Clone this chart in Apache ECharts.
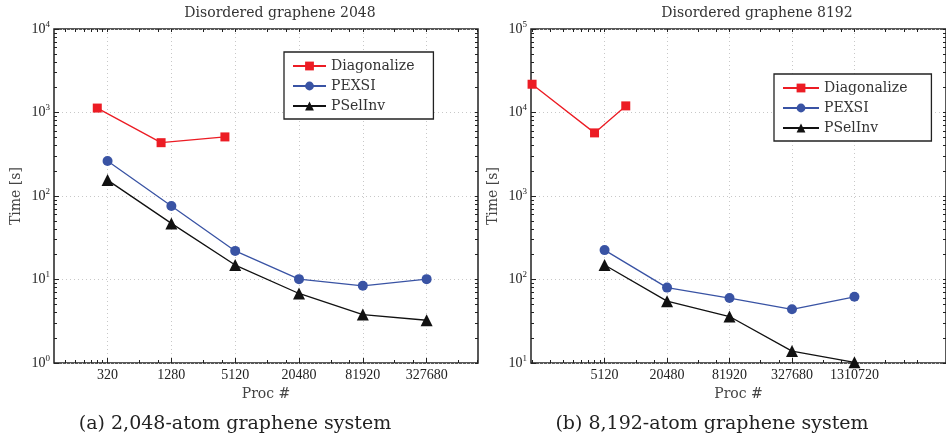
<!DOCTYPE html>
<html>
<head>
<meta charset="utf-8">
<script src="https://cdn.jsdelivr.net/npm/echarts@6/dist/echarts.min.js"></script>
<style>
html, body { margin: 0; background: #fff; }
#chart { width: 946px; height: 441px; }
</style>
</head>
<body>
<div id="chart"></div>
<script>
// (a) disordered graphene 2048
const procDiagA = [256, 1024, 4096];
const timeDiagA = [1130, 435, 510];
const procA = [320, 1280, 5120, 20480, 81920, 327680];
const timePexsiA = [262, 76, 22, 10.1, 8.4, 10.1];
const timePselA = [155, 47, 14.9, 6.8, 3.8, 3.25];

// (b) disordered graphene 8192
const procDiagB = [1024, 4096, 8192];
const timeDiagB = [21800, 5700, 12000];
const procB = [5120, 20480, 81920, 327680, 1310720];
const timePexsiB = [225, 80, 60, 44, 62];
const timePselB = [149, 55, 36, 13.9, 10.2];

// tick labels
const xTicksA = [320, 1280, 5120, 20480, 81920, 327680];
const xTicksB = [5120, 20480, 81920, 327680, 1310720];
const xMinorA = [128, 160, 192, 224, 256, 288, 640, 960, 2560, 3840, 10240, 15360,
    40960, 61440, 163840, 245760, 655360, 983040];
const xMinorB = [1024, 1536, 2048, 2560, 3072, 3584, 4096, 4608, 10240, 15360, 40960, 61440,
    163840, 245760, 655360, 983040, 2621440, 3932160, 5242880];
const yTicksA = [1, 10, 100, 1000, 10000];
const yTicksB = [10, 100, 1000, 10000, 100000];

const RED = '#ec1c24', BLUE = '#3953a4', BLACK = '#111';
const SERIF = 'DejaVu Serif';
const NUM = 'Liberation Serif';

// minor ticks 2..9 per decade for the y axes
function decadeMinors(lo, hi) {
    const out = [];
    for (let d = lo; d < hi; d *= 10) {
        for (let k = 2; k <= 9; k++) out.push(k * d);
    }
    return out;
}

const pairs = (xs, ys) => xs.map((x, i) => [x, ys[i]]);

function xAxes(grid, min, max, majors, minors) {
    const base = { gridIndex: grid, type: 'log', min: min, max: max, axisLine: { show: false } };
    return [
        Object.assign({}, base, {
            position: 'bottom',
            name: 'Proc #', nameLocation: 'middle', nameGap: 22,
            nameTextStyle: { fontFamily: SERIF, fontSize: 14, color: '#444' },
            axisTick: { inside: true, length: 5, customValues: majors, lineStyle: { color: '#222' } },
            axisLabel: { customValues: majors, margin: 5, formatter: v => String(v),
                fontFamily: NUM, fontSize: 14, color: '#222' },
            splitLine: { show: true, lineStyle: { color: '#c8c8c8', type: [1, 3], width: 1 } }
        }),
        Object.assign({}, base, {
            position: 'bottom',
            axisTick: { inside: true, length: 3, customValues: minors, lineStyle: { color: '#222' } },
            axisLabel: { show: false }, splitLine: { show: false }
        }),
        Object.assign({}, base, {
            position: 'top',
            axisTick: { inside: true, length: 3, customValues: majors.concat(minors), lineStyle: { color: '#222' } },
            axisLabel: { show: false }, splitLine: { show: false }
        })
    ];
}

function yAxes(grid, min, max, majors) {
    const base = { gridIndex: grid, type: 'log', min: min, max: max, axisLine: { show: false } };
    const minors = decadeMinors(min, max);
    return [
        Object.assign({}, base, {
            position: 'left',
            name: 'Time [s]', nameLocation: 'middle', nameGap: 31,
            nameTextStyle: { fontFamily: SERIF, fontSize: 14, color: '#444' },
            axisTick: { inside: true, length: 5, customValues: majors, lineStyle: { color: '#222' } },
            axisLabel: {
                customValues: majors, margin: 4,
                formatter: v => '{b|10}{s|' + Math.round(Math.log10(v)) + '}',
                rich: {
                    b: { fontFamily: NUM, fontSize: 14, color: '#222' },
                    s: { fontFamily: NUM, fontSize: 9, color: '#222', padding: [0, 0, 9, 0] }
                }
            },
            splitLine: { show: true, lineStyle: { color: '#c8c8c8', type: [1, 3], width: 1 } }
        }),
        Object.assign({}, base, {
            position: 'left',
            axisTick: { inside: true, length: 3, customValues: minors, lineStyle: { color: '#222' } },
            axisLabel: { show: false }, splitLine: { show: false }
        }),
        Object.assign({}, base, {
            position: 'right',
            axisTick: { inside: true, length: 3, customValues: majors.concat(minors), lineStyle: { color: '#222' } },
            axisLabel: { show: false }, splitLine: { show: false }
        })
    ];
}

function line(name, grid, data, color, symbol, size) {
    return {
        name: name, type: 'line', data: data,
        xAxisIndex: grid * 3, yAxisIndex: grid * 3,
        symbol: symbol, symbolSize: size, showSymbol: true,
        lineStyle: { color: color, width: 1.3 },
        itemStyle: { color: color },
        animation: false
    };
}

function legend(left, top, lineW, padRight) {
    return {
        left: left, top: top, orient: 'vertical',
        itemWidth: lineW, itemHeight: 11, itemGap: 6, itemStyle: { borderWidth: 0 },
        padding: [7, padRight, 6, 8],
        borderColor: '#222', borderWidth: 1.3, backgroundColor: '#fff',
        textStyle: { fontFamily: SERIF, fontSize: 14, color: '#333' },
        data: ['Diagonalize', 'PEXSI', 'PSelInv']
    };
}

const chart = echarts.init(document.getElementById('chart'));
chart.setOption({
    animation: false,
    grid: [
        { left: 54, top: 29, width: 424, height: 334, show: true, borderColor: '#222', borderWidth: 1.5 },
        { left: 531, top: 29, width: 424, height: 334, show: true, borderColor: '#222', borderWidth: 1.5 }
    ],
    xAxis: xAxes(0, 100, 1e6, xTicksA, xMinorA).concat(xAxes(1, 1e3, 1e7, xTicksB, xMinorB)),
    yAxis: yAxes(0, 1, 1e4, yTicksA).concat(yAxes(1, 10, 1e5, yTicksB)),
    legend: [legend(284, 52, 33, 19), legend(774, 74, 36, 24)],
    graphic: [
        { type: 'text', x: 280, y: 13, style: { text: 'Disordered graphene 2048', font: '14px "DejaVu Serif"', fill: '#333', align: 'center', verticalAlign: 'middle' } },
        { type: 'text', x: 757, y: 13, style: { text: 'Disordered graphene 8192', font: '14px "DejaVu Serif"', fill: '#333', align: 'center', verticalAlign: 'middle' } },
        { type: 'text', x: 235, y: 424, style: { text: '(a) 2,048-atom graphene system', font: '19px "DejaVu Serif"', fill: '#222', align: 'center', verticalAlign: 'middle' } },
        { type: 'text', x: 712, y: 424, style: { text: '(b) 8,192-atom graphene system', font: '19px "DejaVu Serif"', fill: '#222', align: 'center', verticalAlign: 'middle' } }
    ],
    series: [
        line('Diagonalize', 0, pairs(procDiagA, timeDiagA), RED, 'rect', 9),
        line('PEXSI', 0, pairs(procA, timePexsiA), BLUE, 'circle', 10),
        line('PSelInv', 0, pairs(procA, timePselA), BLACK, 'triangle', 12),
        line('Diagonalize', 1, pairs(procDiagB, timeDiagB), RED, 'rect', 9),
        line('PEXSI', 1, pairs(procB, timePexsiB), BLUE, 'circle', 10),
        line('PSelInv', 1, pairs(procB, timePselB), BLACK, 'triangle', 12)
    ]
});
</script>
</body>
</html>
